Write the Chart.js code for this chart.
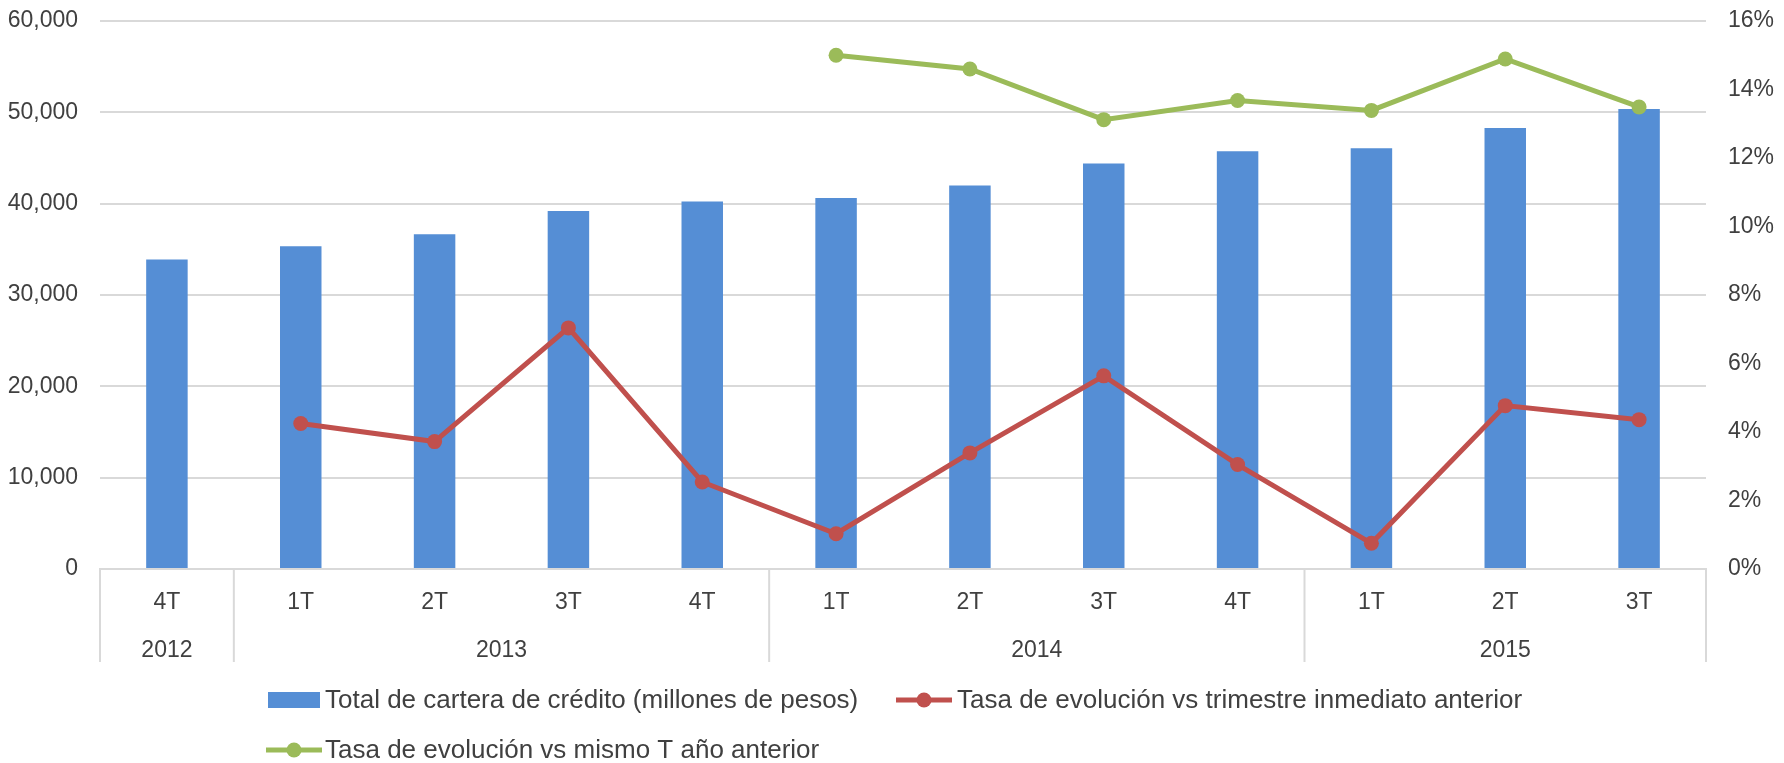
<!DOCTYPE html>
<html>
<head>
<meta charset="utf-8">
<script src="https://cdn.jsdelivr.net/npm/chart.js@4.4.1/dist/chart.umd.min.js"></script>
<style>
  body { margin: 0; background: #fff; }
  #wrap { width: 1784px; height: 763px; position: relative; }
</style>
</head>
<body>
<div id="wrap"><canvas id="cartera"></canvas></div>
<script>
// datos
const trimestres = ['4T', '1T', '2T', '3T', '4T', '1T', '2T', '3T', '4T', '1T', '2T', '3T'];
const anios = ['2012', '2013', '2013', '2013', '2013', '2014', '2014', '2014', '2014', '2015', '2015', '2015'];
const carteraTotal = [33900, 35330, 36650, 39200, 40230, 40620, 41980, 44390, 45735, 46065, 48290, 50370];
const tasaTrimestre = [null, 4.25, 3.72, 7.04, 2.54, 1.03, 3.39, 5.64, 3.05, 0.75, 4.77, 4.36];
const tasaAnual = [null, null, null, null, null, 15.0, 14.6, 13.12, 13.68, 13.39, 14.89, 13.49];

const etiquetas = [
    'Total de cartera de crédito (millones de pesos)',
    'Tasa de evolución vs trimestre inmediato anterior',
    'Tasa de evolución vs mismo T año anterior'
];

const azul = '#558ED5';
const rojo = '#C0504D';
const verde = '#9BBB59';
const gris = '#D9D9D9';
const texto = '#404040';
const fuente = '"Liberation Sans", Arial, sans-serif';

// años agrupados debajo del eje x + lineas separadoras + leyenda
const ejeAnios = {
    id: 'ejeAnios',
    afterDraw(chart) {
        const ctx = chart.ctx;
        const x = chart.scales.x;
        const area = chart.chartArea;
        const paso = x.getPixelForValue(1) - x.getPixelForValue(0);

        // grupos por año
        const grupos = [];
        anios.forEach((a, i) => {
            const last = grupos[grupos.length - 1];
            if (last && last.anio === a) last.fin = i;
            else grupos.push({ anio: a, ini: i, fin: i });
        });

        ctx.save();
        ctx.strokeStyle = gris;
        ctx.lineWidth = 2;
        ctx.fillStyle = texto;
        ctx.font = '23px ' + fuente;
        ctx.textAlign = 'center';
        ctx.textBaseline = 'middle';
        grupos.forEach((g, k) => {
            const izq = x.getPixelForValue(g.ini) - paso / 2;
            const der = x.getPixelForValue(g.fin) + paso / 2;
            ctx.beginPath();
            ctx.moveTo(izq, area.bottom);
            ctx.lineTo(izq, area.bottom + 93);
            if (k === grupos.length - 1) {
                ctx.moveTo(der, area.bottom);
                ctx.lineTo(der, area.bottom + 93);
            }
            ctx.stroke();
            ctx.fillText(g.anio, (izq + der) / 2, area.bottom + 82);
        });

        // leyenda
        ctx.font = '26px ' + fuente;
        ctx.textAlign = 'left';
        ctx.fillStyle = azul;
        ctx.fillRect(268, 692, 52, 16);
        ctx.fillStyle = texto;
        ctx.fillText(etiquetas[0], 325, 701);

        const muestra = (x0, y, color) => {
            ctx.strokeStyle = color;
            ctx.lineWidth = 5;
            ctx.beginPath();
            ctx.moveTo(x0, y);
            ctx.lineTo(x0 + 56, y);
            ctx.stroke();
            ctx.fillStyle = color;
            ctx.beginPath();
            ctx.arc(x0 + 28, y, 7.5, 0, Math.PI * 2);
            ctx.fill();
        };
        muestra(896, 700, rojo);
        ctx.fillStyle = texto;
        ctx.fillText(etiquetas[1], 957, 701);
        muestra(266, 750, verde);
        ctx.fillStyle = texto;
        ctx.fillText(etiquetas[2], 325, 751);
        ctx.restore();
    }
};

const ajusteVertical = (ancho) => s => {
    s.width = ancho;
    s.paddingTop = 0;
    s.paddingBottom = 0;
};

const ctx = document.getElementById('cartera').getContext('2d');
const chart = new Chart(ctx, {
    data: {
        labels: trimestres,
        datasets: [
            {
                type: 'line',
                label: etiquetas[1],
                data: tasaTrimestre,
                yAxisID: 'y1',
                borderColor: rojo,
                backgroundColor: rojo,
                borderWidth: 5,
                pointRadius: 7.5,
                pointBorderWidth: 0,
                tension: 0,
                order: 0
            },
            {
                type: 'line',
                label: etiquetas[2],
                data: tasaAnual,
                yAxisID: 'y1',
                borderColor: verde,
                backgroundColor: verde,
                borderWidth: 5,
                pointRadius: 7.5,
                pointBorderWidth: 0,
                tension: 0,
                order: 0
            },
            {
                type: 'bar',
                label: etiquetas[0],
                data: carteraTotal,
                yAxisID: 'y',
                backgroundColor: azul,
                barPercentage: 0.31,
                categoryPercentage: 1,
                order: 1
            }
        ]
    },
    options: {
        responsive: true,
        maintainAspectRatio: false,
        animation: false,
        layout: { autoPadding: false, padding: { top: 21, left: 0, right: 0, bottom: 0 } },
        plugins: {
            legend: { display: false },
            tooltip: { enabled: false }
        },
        scales: {
            x: {
                grid: { display: false },
                border: { display: true, color: gris, width: 2 },
                ticks: { color: texto, font: { size: 23, family: fuente }, padding: 12, maxRotation: 0 },
                afterFit: s => { s.height = 194; }
            },
            y: {
                position: 'left',
                min: 0,
                max: 60000,
                grid: { color: gris, lineWidth: 2, drawTicks: false },
                border: { display: false },
                ticks: {
                    stepSize: 10000,
                    color: texto,
                    font: { size: 23, family: fuente },
                    padding: 22,
                    callback: v => v.toLocaleString('en-US')
                },
                afterFit: ajusteVertical(100)
            },
            y1: {
                position: 'right',
                min: 0,
                max: 16,
                grid: { display: false, drawTicks: false },
                border: { display: false },
                ticks: {
                    stepSize: 2,
                    color: texto,
                    font: { size: 23, family: fuente },
                    padding: 22,
                    callback: v => v + '%'
                },
                afterFit: ajusteVertical(78)
            }
        }
    },
    plugins: [ejeAnios]
});
</script>
</body>
</html>
